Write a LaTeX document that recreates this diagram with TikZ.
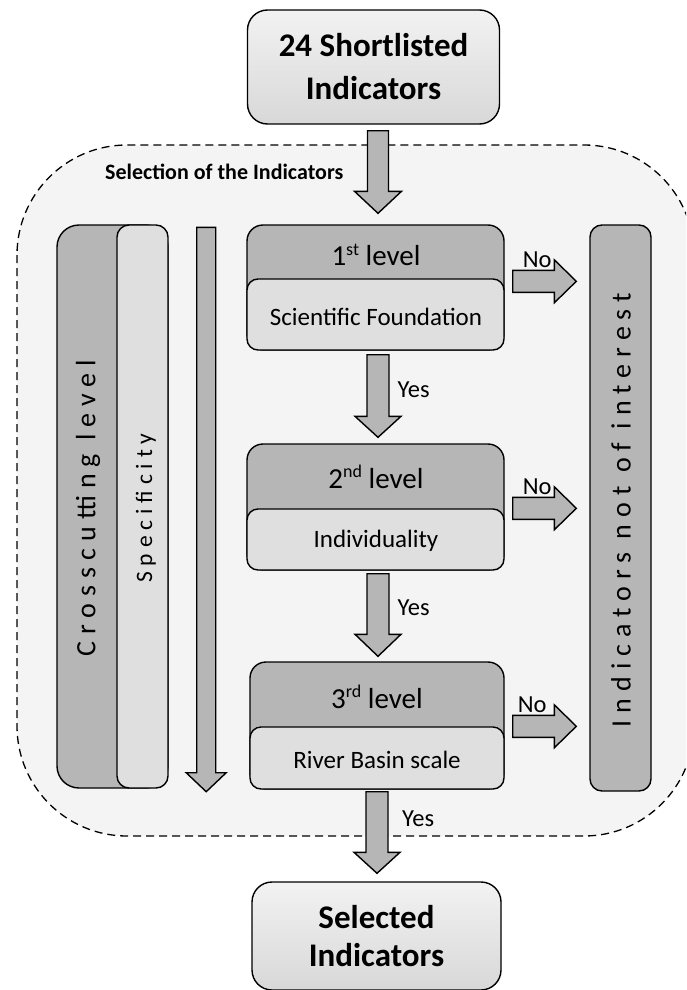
\documentclass[tikz,border=0pt]{standalone}
\usepackage{fontspec}
\setmainfont{Carlito}
\newfontfamily\spacedfont[LetterSpace=25]{Carlito}
\usetikzlibrary{calc}

\definecolor{darkfill}{HTML}{B6B6B6}
\definecolor{lightfill}{HTML}{DFDFDF}
\definecolor{panelfill}{HTML}{F4F4F4}
\definecolor{boxtop}{HTML}{F2F2F2}
\definecolor{boxbottom}{HTML}{D8D8D8}

% small raised ordinal suffix
\newcommand\ordsuf[1]{\raisebox{0.36em}{\fontsize{18}{18}\selectfont #1}}

% downward block arrow: from, to, shaft half width, head half width, head length
\newcommand\blockdown[5]{%
  \draw[blockarrow] let \p1=#1, \p2=#2 in
    (\x1-#3pt,\y1) -- (\x1+#3pt,\y1) -- (\x1+#3pt,\y2+#5pt) -- (\x1+#4pt,\y2+#5pt)
    -- (\x1,\y2) -- (\x1-#4pt,\y2+#5pt) -- (\x1-#3pt,\y2+#5pt) -- cycle;}
% rightward block arrow: from, to, shaft half width, head half width, head length
\newcommand\blockright[5]{%
  \draw[blockarrow] let \p1=#1, \p2=#2 in
    (\x1,\y1+#3pt) -- (\x2-#5pt,\y1+#3pt) -- (\x2-#5pt,\y1+#4pt) -- (\x2,\y1)
    -- (\x2-#5pt,\y1-#4pt) -- (\x2-#5pt,\y1-#3pt) -- (\x1,\y1-#3pt) -- cycle;}

\tikzset{
  outline/.style={draw=black, line width=1.4pt},
  endbox/.style={outline, rounded corners=20pt, top color=boxtop, bottom color=boxbottom,
    minimum width=252pt, align=center, inner sep=0pt},
  darkbox/.style={outline, fill=darkfill, rounded corners=16pt, inner sep=0pt},
  lightbox/.style={outline, fill=lightfill, rounded corners=11pt, inner sep=0pt},
  blockarrow/.style={outline, fill=darkfill, line join=miter},
  panel/.style={draw=black, line width=1.3pt, dash pattern=on 8pt off 5pt, fill=panelfill,
    rounded corners=110pt},
  leveltext/.style={font=\fontsize{29}{33}\selectfont, inner sep=0pt},
  subtext/.style={font=\fontsize{25}{30}\selectfont, inner sep=0pt},
  answer/.style={font=\fontsize{24.5}{28}\selectfont, inner sep=0pt},
  sidetext/.style={rotate=90, font=\spacedfont\fontsize{28}{32}\selectfont, inner sep=0pt},
}

\begin{document}
\begin{tikzpicture}[x=1pt, y=-1pt]
\clip (0,0) rectangle (686,990);
\fill[white] (0,0) rectangle (686,990);

% dashed selection panel (its right side runs past the page edge)
\path[panel] (17,145) rectangle (694,836);
\node[font=\bfseries\fontsize{22}{26}\selectfont, anchor=base west, inner sep=0pt]
  (seltitle) at (105,179) {Selection of the Indicators};

% start and end boxes
\node[endbox, minimum height=114pt, font=\bfseries\fontsize{33}{43}\selectfont]
  (top) at (373.5,67) {24 Shortlisted\\Indicators};
\node[endbox, minimum width=249pt, minimum height=108pt, font=\bfseries\fontsize{33}{38}\selectfont]
  (bottom) at (376.5,936) {Selected\\Indicators};

% crosscutting column
\node[darkbox, rounded corners=22pt, minimum width=111pt, minimum height=563pt]
  (cross) at (112.5,506.5) {};
\node[lightbox, rounded corners=12pt, minimum width=51pt, minimum height=563pt, anchor=east]
  (spec) at (cross.east) {};
\node[sidetext] (crosstext) at (88,508) {Crosscutting level};
\node[sidetext, font=\spacedfont\fontsize{23.5}{27}\selectfont] (spectext) at (146,508) {Specificity};

% rejection column
\node[darkbox, rounded corners=12pt, minimum width=61pt, minimum height=566pt]
  (reject) at (620.5,508) {};
\node[sidetext] (rejecttext) at (621,510) {Indicators not of interest};

% the three filtering levels
\node[darkbox, minimum width=257pt, minimum height=125pt] (l1) at (375.5,287.5) {};
\node[lightbox, minimum width=257pt, minimum height=71pt, anchor=south] (l1b) at (l1.south) {};
\node[leveltext] (l1t) at (376,255) {1\ordsuf{st} level};
\node[subtext] (l1s) at (376,317) {Scientific Foundation};

\node[darkbox, minimum width=257pt, minimum height=126pt] (l2) at (375.5,507) {};
\node[lightbox, minimum width=257pt, minimum height=61pt, anchor=south] (l2b) at (l2.south) {};
\node[leveltext] (l2t) at (376,477) {2\ordsuf{nd} level};
\node[subtext] (l2s) at (376,541) {Individuality};

\node[darkbox, minimum width=254pt, minimum height=127pt] (l3) at (377,725.5) {};
\node[lightbox, minimum width=254pt, minimum height=62pt, anchor=south] (l3b) at (l3.south) {};
\node[leveltext] (l3t) at (377,697) {3\ordsuf{rd} level};
\node[subtext] (l3s) at (377,760) {River Basin scale};

% flow arrows down the middle
\blockdown{($(l1.north |- top.south)+(2.5,6)$)}{($(l1.north)+(2.5,-11)$)}{10.5}{23.5}{22}
\blockdown{($(l1.south)+(2.5,4)$)}{($(l2.north)+(2.5,-6)$)}{11}{23}{21}
\blockdown{($(l2.south)+(2.5,3)$)}{($(l3.north)+(1,-5)$)}{11}{23}{22}
\blockdown{($(l3.south)+(0,2)$)}{($(bottom.north)+(0,-8)$)}{11}{23}{21}

\node[answer, anchor=west] (yes1) at ($(l1.south)+(22,39)$) {Yes};
\node[answer, anchor=west] (yes2) at ($(l2.south)+(22,37)$) {Yes};
\node[answer, anchor=west] (yes3) at ($(l3.south)+(25,29)$) {Yes};

% rejection arrows
\blockright{($(l1b.north east)+(8,3)$)}{($(reject.west |- l1b.north)+(-13,3)$)}{11}{21.5}{22}
\blockright{($(l2b.north east)+(8,0)$)}{($(reject.west |- l2b.north)+(-13,0)$)}{11}{21.5}{22}
\blockright{($(l3b.north east)+(8,0)$)}{($(reject.west |- l3b.north)+(-13,0)$)}{11}{21.5}{22}

\node[answer, anchor=base west] (no1) at ($(l1b.north east)+(18,-11)$) {No};
\node[answer, anchor=base west] (no2) at ($(l2b.north east)+(18,-14)$) {No};
\node[answer, anchor=base west] (no3) at ($(l3b.north east)+(13,-14)$) {No};

% specificity direction arrow
\blockdown{($(spec.north east)+(37.5,3)$)}{($(spec.south east)+(37.5,3)$)}{9.5}{20}{19}
\end{tikzpicture}
\end{document}
